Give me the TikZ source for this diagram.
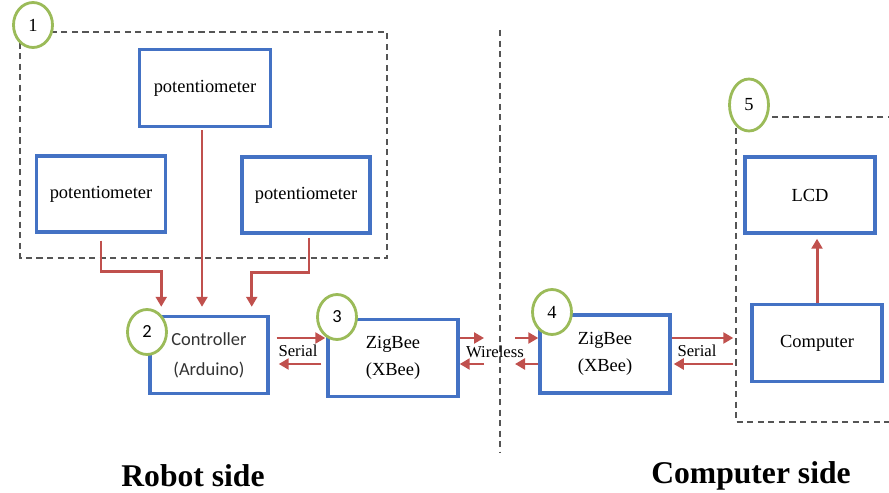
\documentclass[tikz,border=0pt]{standalone}
\usepackage{fontspec}
\setmainfont{Liberation Serif}
\newfontfamily\calibri{Carlito}
\usepackage{tikz}
\usetikzlibrary{shapes.geometric, arrows.meta, positioning}

\definecolor{boxblue}{RGB}{68,114,196}
\definecolor{arrowred}{RGB}{192,80,77}
\definecolor{badgegreen}{RGB}{155,187,89}
\definecolor{zonegray}{RGB}{85,85,85}

\begin{document}
\begin{tikzpicture}[
    x=0.02cm, y=-0.02cm,
    every node/.style={font=\fontsize{10.5}{15.5}\selectfont},
    blk/.style={rectangle, draw=boxblue, line width=2pt, align=center,
                inner sep=0pt, minimum width=2.6cm, minimum height=1.54cm},
    badge/.style={ellipse, draw=badgegreen, line width=1.6pt, fill=white,
                  minimum width=0.78cm, minimum height=0.9cm, inner sep=0pt},
    zone/.style={draw=zonegray, line width=1.4pt, dash pattern=on 3.5pt off 2.5pt},
    arrow/.style={-{Triangle[length=2mm, width=2.2mm]}, arrowred, line width=1.7pt},
    lbl/.style={font=\fontsize{9.5}{11}\selectfont},
    side/.style={font=\fontsize{18}{20}\selectfont\bfseries}
  ]
  \useasboundingbox (0,0) rectangle (889,493);

  % Dashed groups and the dividing line
  \draw[zone] (20,32) rectangle (387,258);
  \draw[zone] (736,117) rectangle (900,422);
  \draw[zone] (500,30) -- (500,452);

  % Robot side
  \node[blk, minimum width=2.62cm] (potT) at (205,88) {potentiometer};
  \node[blk, minimum width=2.58cm, minimum height=1.52cm] (potL) at (101,194) {potentiometer};
  \node[blk, minimum width=2.56cm, minimum height=1.52cm] (potR) at (306,195) {potentiometer};
  \node[blk, minimum width=2.36cm, text=black!80,
        font=\calibri\fontsize{10.5}{17}\selectfont] (ctrl) at (209,355) {Controller\\(Arduino)};
  \node[blk] (zb3) at (393,358) {ZigBee\\(XBee)};

  % Computer side
  \node[blk, minimum height=1.56cm] (zb4) at (605,354) {ZigBee\\(XBee)};
  \node[blk, minimum height=1.52cm] (lcd) at (810,195) {LCD};
  \node[blk] (comp) at (817,343) {Computer};

  % Rows of the link arrows
  \coordinate (up) at (0,338);
  \coordinate (dn) at (0,364);
  \coordinate (wL) at (484,0);
  \coordinate (wR) at (515,0);

  % Connections
  \draw[arrow, shorten <=0.14cm, shorten >=0.16cm] (potL.south) -- ++(0,38) -| ([xshift=0.26cm]ctrl.north west);
  \draw[arrow, shorten <=0.04cm, shorten >=0.16cm] ([xshift=-0.06cm]potT.south) -- ([xshift=-0.06cm]potT.south |- ctrl.north);
  \draw[arrow, shorten <=0.06cm, shorten >=0.16cm] ([xshift=0.06cm]potR.south) -- ++(0,38) -| ([xshift=-0.36cm]ctrl.north east);
  \draw[arrow, shorten <=0.14cm, shorten >=0.02cm] (ctrl.east |- up) -- (zb3.west |- up);
  \draw[arrow, shorten <=0.1cm, shorten >=0.18cm] (zb3.west |- dn) -- (ctrl.east |- dn);
  \draw[arrow] (zb3.east |- up) -- (wL |- up);
  \draw[arrow] (wL |- dn) -- (zb3.east |- dn);
  \draw[arrow] (wR |- up) -- (zb4.west |- up);
  \draw[arrow] (zb4.west |- dn) -- (wR |- dn);
  \draw[arrow, shorten >=0.34cm] (zb4.east |- up) -- (comp.west |- up);
  \draw[arrow, shorten <=0.34cm, shorten >=0.04cm] (comp.west |- dn) -- (zb4.east |- dn);
  \draw[arrow, shorten >=0.08cm] (comp.north) -- (comp.north |- lcd.south);

  % Link labels
  \node[lbl] (ser1) at (298,351) {Serial};
  \node[lbl] (wls) at (495,352) {Wireless};
  \node[lbl] (ser2) at (697,351) {Serial};

  % Numbered badges
  \node[badge] (b1) at (33,25) {1};
  \node[badge, font=\calibri\fontsize{10.5}{12}\selectfont] (b2) at (147,332) {2};
  \node[badge, font=\calibri\fontsize{10.5}{12}\selectfont] (b3) at (337,317) {3};
  \node[badge] (b4) at (552,312) {4};
  \node[badge, minimum height=1.04cm] (b5) at (749,105) {5};

  % Side captions
  \node[side] (robot) at (193,476) {Robot side};
  \node[side] (computer) at (751,476) {Computer side};

\end{tikzpicture}
\end{document}
